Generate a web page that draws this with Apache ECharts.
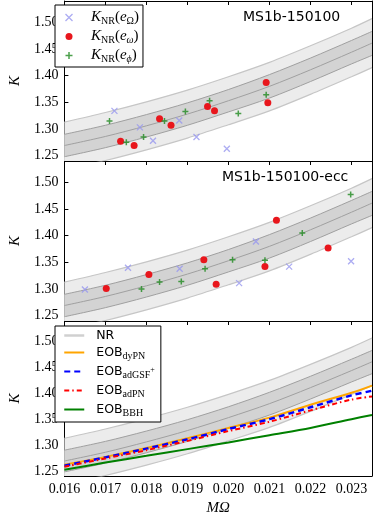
<!DOCTYPE html>
<html>
<head>
<meta charset="utf-8">
<script src="https://cdn.jsdelivr.net/npm/echarts@6/dist/echarts.min.js"></script>
<style>
  html, body { margin: 0; padding: 0; background: #fff; }
  #chart { width: 374px; height: 517px; }
</style>
</head>
<body>
<div id="chart"></div>
<script>
// frequency samples for the NR band and EOB curves
const xGrid = [0.016, 0.017, 0.018, 0.019, 0.020, 0.021, 0.022, 0.023, 0.0235]
// NR fit: centre, 1-sigma and 2-sigma edges
const nrHi2 = [1.313, 1.331, 1.351, 1.373, 1.398, 1.425, 1.456, 1.489, 1.507]
const nrHi1 = [1.290, 1.307, 1.327, 1.349, 1.374, 1.402, 1.433, 1.466, 1.483]
const nrMid = [1.269, 1.286, 1.306, 1.328, 1.353, 1.380, 1.411, 1.444, 1.461]
const nrLo1 = [1.248, 1.265, 1.285, 1.307, 1.332, 1.358, 1.389, 1.422, 1.438]
const nrLo2 = [1.224, 1.241, 1.261, 1.283, 1.308, 1.334, 1.365, 1.398, 1.415]

// EOB models (bottom panel)
const eobDyPN = [1.262, 1.277, 1.294, 1.313, 1.333, 1.353, 1.378, 1.401, 1.415]
const eobAdGSF = [1.260, 1.276, 1.293, 1.311, 1.331, 1.350, 1.373, 1.396, 1.405]
const eobAdPN = [1.258, 1.274, 1.290, 1.308, 1.327, 1.345, 1.367, 1.388, 1.394]
const eobBBH = [1.252, 1.266, 1.279, 1.292, 1.305, 1.319, 1.333, 1.350, 1.358]

// MS1b-150100 : [MOmega, K]
const p1Omega = [[0.01722, 1.334], [0.01784, 1.303], [0.01816, 1.278], [0.01880, 1.316], [0.01922, 1.285], [0.01996, 1.263]]
const p1Omega2 = [[0.01737, 1.277], [0.01770, 1.269], [0.01832, 1.319], [0.01860, 1.307], [0.01949, 1.342], [0.01966, 1.334], [0.02092, 1.387], [0.02096, 1.349]]
const p1Phi = [[0.01710, 1.315], [0.01751, 1.275], [0.01793, 1.285], [0.01844, 1.315], [0.01895, 1.333], [0.01954, 1.353], [0.02024, 1.329], [0.02092, 1.364]]

// MS1b-150100-ecc
const p2Omega = [[0.01650, 1.299], [0.01755, 1.340], [0.01881, 1.338], [0.02026, 1.311], [0.02067, 1.389], [0.02148, 1.342], [0.02299, 1.352]]
const p2Omega2 = [[0.01702, 1.301], [0.01806, 1.327], [0.01940, 1.355], [0.01970, 1.309], [0.02089, 1.342], [0.02117, 1.429], [0.02243, 1.377]]
const p2Phi = [[0.01788, 1.300], [0.01832, 1.313], [0.01885, 1.314], [0.01943, 1.338], [0.02010, 1.355], [0.02089, 1.354], [0.02180, 1.405], [0.02298, 1.477]]

const xTicks = [0.016, 0.017, 0.018, 0.019, 0.020, 0.021, 0.022, 0.023]
const yTicks = [1.25, 1.30, 1.35, 1.40, 1.45, 1.50]
const panelTitles = ['MS1b-150100', 'MS1b-150100-ecc']

const SERIF = '"Liberation Serif", "DejaVu Serif", serif'
const SANS = '"DejaVu Sans", sans-serif'
const LIGHT = '#ececec'
const DARK = '#d3d3d3'
const EDGE_LIGHT = '#c6c6c6'
const EDGE_DARK = '#a0a0a0'
const C_OMEGA = '#9797ef'
const C_RED = '#e8161c'
const C_GREEN = '#1f8a1f'
const SYM_X = 'path://M0,0L10,10M0,10L10,0'
const SYM_PLUS = 'path://M5,0L5,10M0,5L10,5'

const chart = echarts.init(document.getElementById('chart'))

const tops = [1, 161, 321]
const grid = tops.map(t => ({ left: 50, right: 2, top: t, height: 160 }))

const xAxis = []
const yAxis = []
tops.forEach((t, g) => {
  ;['bottom', 'top'].forEach(pos => {
    const labelled = g === 2 && pos === 'bottom'
    xAxis.push({
      type: 'value',
      gridIndex: g,
      position: pos,
      min: 0.016,
      max: 0.0235,
      name: labelled ? 'MΩ' : '',
      nameLocation: 'middle',
      nameGap: 25,
      nameTextStyle: { fontFamily: SERIF, fontStyle: 'italic', fontSize: 15, color: '#000' },
      axisLine: { show: true, onZero: false, lineStyle: { color: '#000', width: 1 } },
      axisTick: { show: true, inside: true, length: 4, customValues: xTicks, lineStyle: { color: '#000' } },
      axisLabel: {
        show: labelled,
        customValues: xTicks,
        formatter: v => v.toFixed(3),
        margin: 6,
        color: '#000',
        fontFamily: SERIF,
        fontSize: 14
      },
      splitLine: { show: false }
    })
  })
  ;['left', 'right'].forEach(pos => {
    const labelled = pos === 'left'
    yAxis.push({
      type: 'value',
      gridIndex: g,
      position: pos,
      min: 1.24,
      max: 1.54,
      name: labelled ? 'K' : '',
      nameLocation: 'middle',
      nameGap: 37,
      nameRotate: 90,
      nameTextStyle: { fontFamily: SERIF, fontStyle: 'italic', fontSize: 15, color: '#000' },
      axisLine: { show: true, onZero: false, lineStyle: { color: '#000', width: 1 } },
      axisTick: { show: true, inside: true, length: 4, customValues: yTicks, lineStyle: { color: '#000' } },
      axisLabel: {
        show: labelled,
        customValues: yTicks,
        formatter: v => v.toFixed(2),
        margin: 6,
        color: '#000',
        fontFamily: SERIF,
        fontSize: 14
      },
      splitLine: { show: false }
    })
  })
})

const pts = arr => xGrid.map((x, i) => [x, arr[i]])

// grey NR band drawn in every panel: areas filled down to the axis, painted top to bottom
function bandSeries (g) {
  const fill = (arr, color) => ({
    type: 'line',
    xAxisIndex: 2 * g,
    yAxisIndex: 2 * g,
    symbol: 'none',
    smooth: 0.3,
    silent: true,
    data: pts(arr),
    lineStyle: { width: 0 },
    areaStyle: { color: color, opacity: 1, origin: 'start' }
  })
  const edge = (arr, color, width, name) => ({
    type: 'line',
    name: name,
    xAxisIndex: 2 * g,
    yAxisIndex: 2 * g,
    symbol: 'none',
    smooth: 0.3,
    silent: true,
    data: pts(arr),
    lineStyle: { color: color, width: width },
    itemStyle: { color: color }
  })
  return [
    fill(nrHi2, LIGHT),
    fill(nrHi1, DARK),
    fill(nrLo1, LIGHT),
    fill(nrLo2, '#fff'),
    edge(nrHi2, EDGE_LIGHT, 1.2),
    edge(nrLo2, EDGE_LIGHT, 1.2),
    edge(nrHi1, EDGE_DARK, 1),
    edge(nrLo1, EDGE_DARK, 1),
    edge(nrMid, EDGE_DARK, 1, g === 2 ? 'NR' : undefined)
  ]
}

function markerSeries (g, omega, omega2, phi) {
  const common = { type: 'scatter', xAxisIndex: 2 * g, yAxisIndex: 2 * g, z: 5 }
  return [
    { ...common, name: 'eOmega', data: omega, symbol: SYM_X, symbolSize: 6, itemStyle: { color: 'none', borderColor: C_OMEGA, borderWidth: 1.3 } },
    { ...common, name: 'eomega', data: omega2, symbol: 'circle', symbolSize: 7, itemStyle: { color: C_RED, opacity: 1 } },
    { ...common, name: 'ephi', data: phi, symbol: SYM_PLUS, symbolSize: 6, itemStyle: { color: 'none', borderColor: C_GREEN, borderWidth: 1.5 } }
  ]
}

function eobLine (name, arr, color, type, width) {
  return {
    type: 'line',
    name: name,
    xAxisIndex: 4,
    yAxisIndex: 4,
    symbol: 'none',
    smooth: 0.3,
    z: 5,
    data: pts(arr),
    lineStyle: { color: color, width: width, type: type },
    itemStyle: { color: color }
  }
}

const series = [
  ...bandSeries(0),
  ...markerSeries(0, p1Omega, p1Omega2, p1Phi),
  ...bandSeries(1),
  ...markerSeries(1, p2Omega, p2Omega2, p2Phi),
  ...bandSeries(2),
  eobLine('dyPN', eobDyPN, '#ffa500', 'solid', 2),
  eobLine('adGSF', eobAdGSF, '#0000ff', [6, 4], 2.5),
  eobLine('adPN', eobAdPN, '#ff0000', [5, 3, 1.5, 3], 2),
  eobLine('BBH', eobBBH, '#008000', 'solid', 2)
]

const richLegend = {
  it: { fontFamily: SERIF, fontStyle: 'italic', fontSize: 15, lineHeight: 16, color: '#000' },
  rm: { fontFamily: SERIF, fontSize: 15, lineHeight: 16, color: '#000' },
  sub: { fontFamily: SERIF, fontSize: 10, lineHeight: 16, padding: [7, 0, 0, 0], color: '#000' },
  subi: { fontFamily: SERIF, fontStyle: 'italic', fontSize: 10, lineHeight: 16, padding: [7, 0, 0, 0], color: '#000' },
  s: { fontFamily: SANS, fontSize: 12.5, lineHeight: 16, color: '#000' },
  ss: { fontFamily: SERIF, fontSize: 10, lineHeight: 16, padding: [7, 0, 0, 0], color: '#000' },
  sup: { fontFamily: SERIF, fontSize: 8, lineHeight: 16, padding: [0, 0, 4, 0], color: '#000' }
}
const legend1Text = {
  eOmega: '{it|K}{sub|NR}{rm|(}{it|e}{sub|Ω}{rm|)}',
  eomega: '{it|K}{sub|NR}{rm|(}{it|e}{subi|ω}{rm|)}',
  ephi: '{it|K}{sub|NR}{rm|(}{it|e}{subi|ϕ}{rm|)}'
}
const legend3Text = {
  NR: '{s|NR}',
  dyPN: '{s|EOB}{ss|dyPN}',
  adGSF: '{s|EOB}{ss|adGSF}{sup|+}',
  adPN: '{s|EOB}{ss|adPN}',
  BBH: '{s|EOB}{ss|BBH}'
}

const legendBase = {
  orient: 'vertical',
  left: 55,
  backgroundColor: '#fff',
  borderColor: '#000',
  borderWidth: 1,
  borderRadius: 0,
  itemWidth: 20,
  itemGap: 2,
  selectedMode: false,
  textStyle: { padding: [0, 0, 0, 7], rich: richLegend }
}
const hideSym = { color: 'transparent', borderWidth: 0, opacity: 0 }

chart.setOption({
  animation: false,
  grid: grid,
  xAxis: xAxis,
  yAxis: yAxis,
  title: [
    { text: panelTitles[0], left: 243, top: 9, padding: 0, textStyle: { fontFamily: SANS, fontSize: 14, fontWeight: 'normal', color: '#000', lineHeight: 16 } },
    { text: panelTitles[1], left: 222, top: 169, padding: 0, textStyle: { fontFamily: SANS, fontSize: 14, fontWeight: 'normal', color: '#000', lineHeight: 16 } }
  ],
  legend: [
    {
      ...legendBase,
      top: 5,
      padding: [4, 4, 3, 8],
      itemHeight: 7,
      formatter: name => legend1Text[name],
      data: [
        { name: 'eOmega', icon: SYM_X, itemStyle: { color: 'none', borderColor: C_OMEGA, borderWidth: 1.3 } },
        { name: 'eomega', icon: 'circle', itemStyle: { color: C_RED } },
        { name: 'ephi', icon: SYM_PLUS, itemStyle: { color: 'none', borderColor: C_GREEN, borderWidth: 1.5 } }
      ]
    },
    {
      ...legendBase,
      top: 326,
      padding: [3, 6, 4, 8],
      itemHeight: 10,
      formatter: name => legend3Text[name],
      data: [
        { name: 'NR', itemStyle: hideSym, lineStyle: { color: '#d0d0d0', width: 2.5 } },
        { name: 'dyPN', itemStyle: hideSym },
        { name: 'adGSF', itemStyle: hideSym },
        { name: 'adPN', itemStyle: hideSym },
        { name: 'BBH', itemStyle: hideSym }
      ]
    }
  ],
  series: series
})
</script>
</body>
</html>
